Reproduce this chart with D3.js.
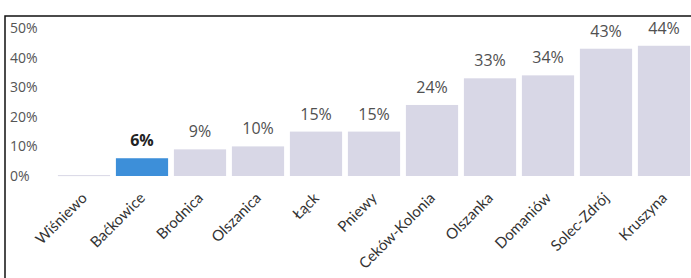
<!DOCTYPE html>
<html>
<head>
<meta charset="utf-8">
<script src="https://cdn.jsdelivr.net/npm/d3@7"></script>
<style>
  body { margin: 0; background: #fff; }
  svg { display: block; font-family: "Open Sans", Lato, sans-serif; }
</style>
</head>
<body>
<div id="chart"></div>
<script>
const width = 691, height = 278;

// data
const categories = ["Wiśniewo", "Baćkowice", "Brodnica", "Olszanica", "Łąck", "Pniewy",
                    "Ceków-Kolonia", "Olszanka", "Domaniów", "Solec-Zdrój", "Kruszyna"];
const values = [0.3, 6, 9, 10, 15, 15, 24, 33, 34, 43, 44];
const highlight = ["Baćkowice"];
const yTicks = [0, 10, 20, 30, 40, 50];

const svg = d3.select("#chart").append("svg")
    .attr("width", width)
    .attr("height", height);

svg.append("rect").attr("width", width).attr("height", height).attr("fill", "#fff");

// frame left/top like the scanned page
svg.append("path")
    .attr("d", `M5,${height} V16 H${width}`)
    .attr("fill", "none")
    .attr("stroke", "#111")
    .attr("stroke-width", 1.5);

const x = d3.scaleBand()
    .domain(categories)
    .range([55, 693])
    .paddingInner(0.1)
    .paddingOuter(0.05);

const y = d3.scaleLinear()
    .domain([0, 50])
    .range([176, 28]);

// y axis labels only
const yAxis = svg.append("g")
    .attr("transform", "translate(10,0)")
    .call(d3.axisLeft(y).tickValues(yTicks).tickFormat(d => d + "%").tickSize(0));
yAxis.select(".domain").remove();
yAxis.selectAll("text")
    .attr("x", 0)
    .attr("text-anchor", "start")
    .attr("fill", "#555")
    .style("font-size", "14px")
    .style("font-family", "'Open Sans', Lato, sans-serif");

const data = categories.map((c, i) => ({ name: c, value: values[i] }));

svg.selectAll("rect.bar")
    .data(data)
    .enter().append("rect")
    .attr("class", "bar")
    .attr("x", d => x(d.name))
    .attr("width", x.bandwidth())
    .attr("y", d => y(d.value))
    .attr("height", d => Math.max(1, y(0) - y(d.value)))
    .attr("fill", d => highlight.includes(d.name) ? "#3d8fd9" : "#d8d7e6");

svg.selectAll("text.val")
    .data(data.filter(d => d.value >= 1))
    .enter().append("text")
    .attr("class", "val")
    .attr("x", d => x(d.name) + x.bandwidth() / 2)
    .attr("y", d => y(d.value) - 12)
    .attr("text-anchor", "middle")
    .attr("fill", d => highlight.includes(d.name) ? "#222" : "#505050")
    .style("font-weight", d => highlight.includes(d.name) ? "bold" : "normal")
    .style("font-size", "16px")
    .text(d => Math.round(d.value) + "%");

// rotated category labels
svg.selectAll("text.cat")
    .data(categories)
    .enter().append("text")
    .attr("class", "cat")
    .attr("transform", d => `translate(${x(d) + x.bandwidth() / 2 + 4},${199}) rotate(-45)`)
    .attr("text-anchor", "end")
    .attr("fill", "#333")
    .style("font-family", "Lato, sans-serif")
    .style("font-size", "15px")
    .text(d => d);
</script>
</body>
</html>
